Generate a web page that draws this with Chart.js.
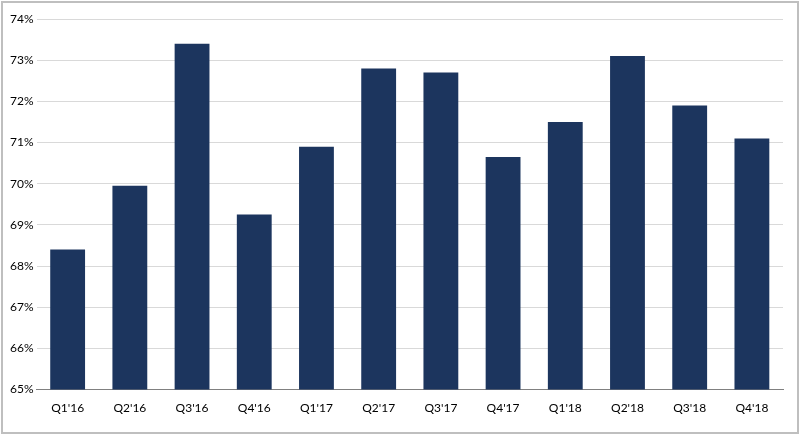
<!DOCTYPE html>
<html>
<head>
<meta charset="utf-8">
<script src="https://cdn.jsdelivr.net/npm/chart.js@4"></script>
<style>
  html, body { margin: 0; padding: 0; background: #fff; }
  .frame { position: absolute; left: 1px; top: 1px; width: 794px; height: 429px; border: 2px solid #bfbfbf; box-sizing: content-box; }
  .wrap { position: absolute; left: 0; top: 0; width: 794px; height: 429px; }
</style>
</head>
<body>
<div class="frame"><div class="wrap"><canvas id="chart"></canvas></div></div>
<script>
const categories = ["Q1'16", "Q2'16", "Q3'16", "Q4'16", "Q1'17", "Q2'17", "Q3'17", "Q4'17", "Q1'18", "Q2'18", "Q3'18", "Q4'18"];
const values = [68.4, 69.95, 73.4, 69.25, 70.9, 72.8, 72.7, 70.65, 71.5, 73.1, 71.9, 71.1];
const yMin = 65, yMax = 74;

new Chart(document.getElementById('chart'), {
  type: 'bar',
  data: {
    labels: categories,
    datasets: [{ data: values, backgroundColor: '#1c355e', categoryPercentage: 1, barPercentage: 0.56 }]
  },
  options: {
    responsive: true,
    maintainAspectRatio: false,
    animation: false,
    layout: { padding: { left: 4, right: 14, top: 16, bottom: 14 } },
    plugins: { legend: { display: false }, tooltip: { enabled: false } },
    scales: {
      x: {
        grid: { display: false },
        border: { color: '#808080' },
        ticks: { color: '#000', font: { family: 'Lato', size: 12 } }
      },
      y: {
        min: yMin, max: yMax,
        ticks: { stepSize: 1, color: '#000', font: { family: 'Lato', size: 12 }, callback: v => v + '%' },
        grid: { color: '#d9d9d9', drawTicks: false },
        border: { display: false }
      }
    }
  }
});
</script>
</body>
</html>
